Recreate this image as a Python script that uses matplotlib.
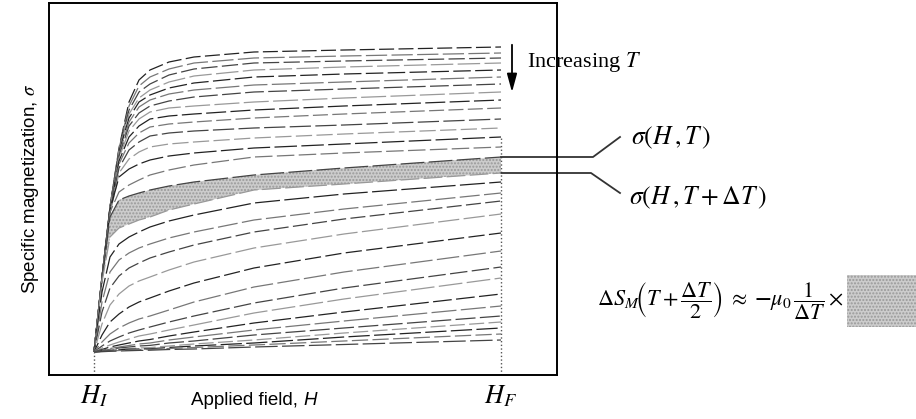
"""
Curvas de magnetização isotérmicas e a área entre duas delas (ΔS_M)
"""
import numpy as np
import matplotlib.pyplot as plt

plt.rcParams['mathtext.fontset'] = 'stix'
plt.rcParams['font.family'] = ['Liberation Sans', 'DejaVu Sans']

# campo aplicado (0 = H_I, 407 = H_F), unidades arbitrárias
campo = [0, 8, 16, 25, 35, 45, 56, 75, 100, 160, 250, 407]

# curvas abaixo de Tc (da menor para a maior temperatura)
ferro = [
    [0, 75, 145, 204, 250, 272, 282, 290, 295, 300, 302, 305],
    [0, 75, 145, 203, 246, 266, 275, 283, 289, 294, 296, 299],
    [0, 75, 145, 202, 242, 260, 268, 277, 283, 289, 291, 294],
    [0, 75, 144, 201, 238, 254, 262, 270, 276, 282, 285, 289],
    [0, 75, 144, 200, 234, 250, 257, 264, 269, 275, 278, 282],
    [0, 75, 144, 198, 230, 245, 252, 258, 262, 267, 270, 275],
    [0, 75, 143, 196, 226, 239, 246, 251, 255, 260, 263, 268],
    [0, 74, 143, 194, 221, 233, 240, 244, 246, 250, 254, 260],
    [0, 74, 142, 191, 215, 226, 233, 236, 238, 242, 246, 252],
    [0, 74, 141, 188, 209, 219, 225, 228, 230, 234, 238, 244],
    [0, 74, 140, 184, 202, 210, 216, 219, 221, 224, 227, 233],
    [0, 74, 138, 179, 193, 200, 205, 208, 210, 214, 218, 224],
    [0, 73, 142, 175, 183, 188, 192, 196, 199, 204, 208, 215],
    [0, 73, 140, 160, 167, 172, 177, 182, 187, 195, 199, 205],
]
# as duas curvas que limitam a área sombreada
sigma_T = [0, 72, 135, 152, 156, 159, 162, 166, 170, 177, 184, 195]
sigma_TdT = [0, 70, 115, 124, 128, 132, 135, 142, 148, 162, 168, 179]

# curvas acima de Tc
para = [
    [0, 60, 95, 108, 115, 120, 125, 131, 137, 149, 158, 170],
    [0, 50, 80, 92, 99, 104, 108, 114, 120, 132, 143, 159],
    [0, 40, 64, 76, 84, 89, 94, 100, 107, 120, 133, 151],
    [0, 28, 47, 58, 66, 71, 75, 82, 90, 104, 118, 138],
    [0, 17, 30, 38, 45, 50, 54, 61, 69, 84, 99, 119],
    [0, 10, 18, 24, 29, 33, 36, 42, 50, 65, 80, 101],
    [0, 6, 11, 15, 19, 22, 25, 30, 36, 49, 64, 85],
    [0, 4, 7, 10, 13, 16, 18, 22, 27, 39, 53, 74],
    [0, 2.5, 5, 7, 9, 11, 12.5, 16, 20, 29, 40, 58],
    [0, 1.8, 3.5, 5, 6.5, 8, 9, 12, 15, 22, 31, 46],
    [0, 1.3, 2.6, 4, 5, 6, 6.6, 9, 11, 17, 24, 36],
    [0, 1, 2, 3, 3.5, 4, 4.4, 6, 8, 12, 19, 30],
    [0, 0.7, 1.4, 2.2, 2.7, 3, 3.2, 4.5, 6, 9, 15, 24],
    [0, 0.5, 1, 1.5, 2, 2.3, 2.6, 3.5, 4.5, 7, 11, 18],
    [0, 0.3, 0.7, 1, 1.3, 1.6, 1.8, 2.5, 3, 5, 7.5, 12],
]

W, Hpx = 916, 419
fig = plt.figure(figsize=(W / 100, Hpx / 100), dpi=100)
ax = fig.add_axes([49 / W, 1 - 375 / Hpx, 508 / W, 372 / Hpx])
ax.set_xlim(-45, 463)
ax.set_ylim(-23, 349)

todas = ferro + [sigma_T, sigma_TdT] + para
cores = ['#222222', '#777777', '#444444', '#999999']
for i, s in enumerate(todas):
    traco = 12 + (i * 5) % 9
    ax.plot(campo, s, color=cores[i % 4], lw=0.9,
            ls=((i * 7) % 15, (traco, 3.5)), zorder=3)

# área entre sigma(H,T) e sigma(H,T+dT)
ax.fill_between(campo, sigma_TdT, sigma_T, facecolor='#cccccc',
                edgecolor='#999999', hatch='.....', lw=0, zorder=2)

# linhas pontilhadas em H_I e H_F
ax.plot([0, 0], [-23, 0], ls=':', color='#555555', lw=1)
ax.plot([campo[-1], campo[-1]], [-23, 215], ls=':', color='#555555', lw=1)

ax.set_xticks([0, campo[-1]])
ax.set_xticklabels([r'$H_I$', r'$H_F$'], fontsize=19)
ax.tick_params(axis='x', length=0, pad=6)
ax.set_yticks([])
for sp in ax.spines.values():
    sp.set_linewidth(1.4)

ax.set_ylabel(r'Specific magnetization, $\sigma$', fontsize=13.5, labelpad=6)
ax.text(0.5, -0.045, 'Applied field, ', transform=ax.transAxes, ha='right',
        va='top', fontsize=13.5)
ax.text(0.5, -0.045, 'H', transform=ax.transAxes, ha='left', va='top',
        fontsize=13.5, style='italic')


def px(x, y):
    return x / W, 1 - y / Hpx


# seta "Increasing T"
ax.annotate('', xy=px(512, 95), xytext=px(512, 42), xycoords='figure fraction',
            textcoords='figure fraction',
            arrowprops=dict(arrowstyle='-|>,head_width=0.3,head_length=1.1',
                            color='black', lw=1.3))
fig.text(*px(527, 62), r'Increasing $T$', fontsize=16, va='center',
         family='Liberation Serif')

# conectores para as legendas
ax.plot([campo[-1], 499, 526], [sigma_T[-1], sigma_T[-1], 215], color='#333333',
        lw=1.3, clip_on=False)
ax.plot([campo[-1], 497, 526], [sigma_TdT[-1], sigma_TdT[-1], 159],
        color='#333333', lw=1.3, clip_on=False)
fig.text(*px(631, 138), r'$\sigma(H\,,T\,)$', fontsize=18.5, va='center')
fig.text(*px(629, 198), r'$\sigma(H\,,T+\Delta T\,)$', fontsize=18.5,
         va='center')

# fórmula da variação de entropia
fig.text(*px(597, 300),
         r'$\Delta S_M\!\left(T+\dfrac{\Delta T}{2}\right)\;\approx\;\mathbf{-}\mu_0\,\dfrac{1}{\Delta T}\times$',
         fontsize=16, va='center')
quad = fig.add_axes([847 / W, 1 - 327 / Hpx, 69 / W, 52 / Hpx])
quad.add_patch(plt.Rectangle((0, 0), 1, 1, facecolor='#cccccc',
                             edgecolor='#999999', hatch='.....', lw=0))
quad.set_xlim(0, 1)
quad.set_ylim(0, 1)
quad.axis('off')

fig.savefig('out.png', dpi=100)
